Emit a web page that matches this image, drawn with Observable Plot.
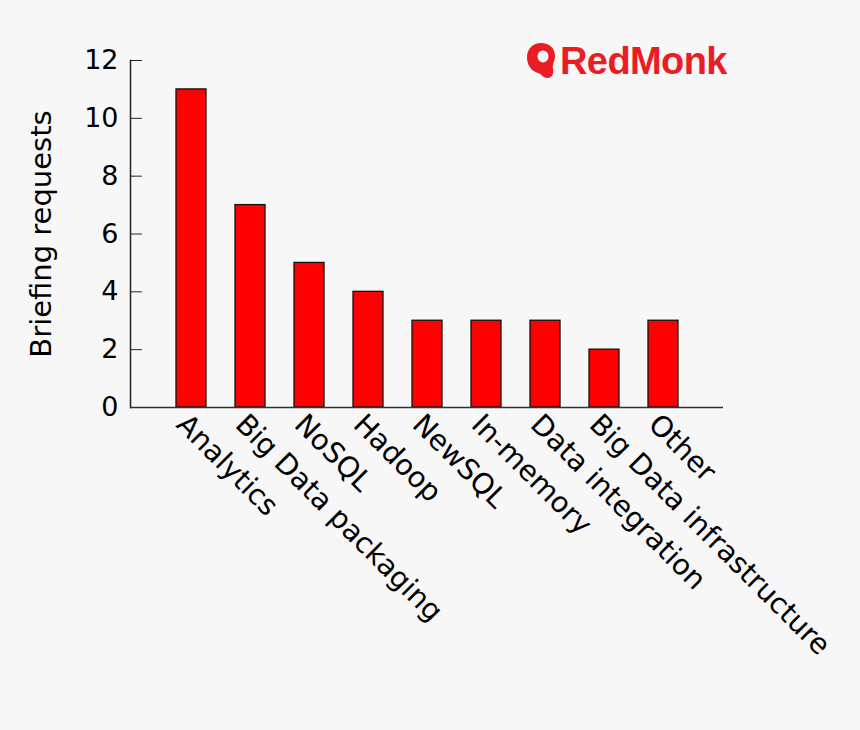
<!DOCTYPE html>
<html><head><meta charset="utf-8">
<script src="https://cdn.jsdelivr.net/npm/d3@7"></script>
<script src="https://cdn.jsdelivr.net/npm/@observablehq/plot@0.6"></script>
<style>
body{margin:0;background:#f7f7f7;}
#wrap{position:relative;width:860px;height:730px;background:#f7f7f7;}
#logo{position:absolute;left:526px;top:42px;display:flex;align-items:center;gap:3px;}
#logo span{font-family:"Liberation Sans",Arial,sans-serif;font-weight:bold;font-size:38px;color:#ea1c24;letter-spacing:-0.6px;line-height:36px;}
</style></head>
<body>
<div id="wrap"><div id="chart"></div>
<div id="logo"><svg width="31" height="37" viewBox="0 0 31 37"><path d="M15 1 C23 1 29 6 29 14 C29 19 26 22 27 27 C28 32 26 36 21 36 C17 36 16 32 12 31 C5 29 1 23 1 15 C1 7 7 1 15 1 Z" fill="#ea1c24"/><ellipse cx="17" cy="14.5" rx="5.5" ry="6" fill="#f7f7f7"/></svg><span>RedMonk</span></div>
</div>
<script>
const categories = ["Analytics","Big Data packaging","NoSQL","Hadoop","NewSQL","In-memory","Data integration","Big Data infrastructure","Other"];
const values = [11,7,5,4,3,3,3,2,3];
const yTicks = [0,2,4,6,8,10,12];
const yLabel = "Briefing requests";

const data = categories.map((c,i)=>({category:c, value:values[i]}));
const tickShape = {draw(context, l){ context.moveTo(0,0); context.lineTo(l,0); }};

const chart = Plot.plot({
  width:860, height:730,
  marginLeft:130, marginRight:137, marginTop:60, marginBottom:323,
  style:{background:"transparent", fontFamily:"DejaVu Sans, sans-serif", fontSize:"27px", color:"#000", overflow:"visible"},
  x:{domain:categories, paddingInner:0.5, paddingOuter:0.75, label:null},
  y:{domain:[0,12], label:null},
  marks:[
    Plot.barY(data,{x:"category", y:"value", fill:"#ff0000", stroke:"#111", strokeWidth:1.3}),
    Plot.axisY({ticks:yTicks, tickSize:0, tickPadding:12, fontSize:27, label:yLabel, labelArrow:"none", labelAnchor:"center", labelOffset:100}),
    Plot.vector(yTicks,{y:d=>d, frameAnchor:"left", length:11, anchor:"start", shape:tickShape, stroke:"#222", strokeWidth:1}),
    Plot.axisX({tickSize:0, tickRotate:45, tickPadding:12, dx:-10, fontSize:28.5, label:null}),
    Plot.ruleY([0],{stroke:"#333", strokeWidth:1.5}),
    Plot.frame({anchor:"left", stroke:"#222", strokeWidth:1.5})
  ]
});
document.getElementById("chart").appendChild(chart);
chart.querySelectorAll("g[aria-label='y-axis label'] text").forEach(t=>{
  t.setAttribute("font-size","29");
  t.textContent = t.textContent.replace(/\s*[↑→↓←]\s*/g,"").trim();
});
</script>
</body></html>
